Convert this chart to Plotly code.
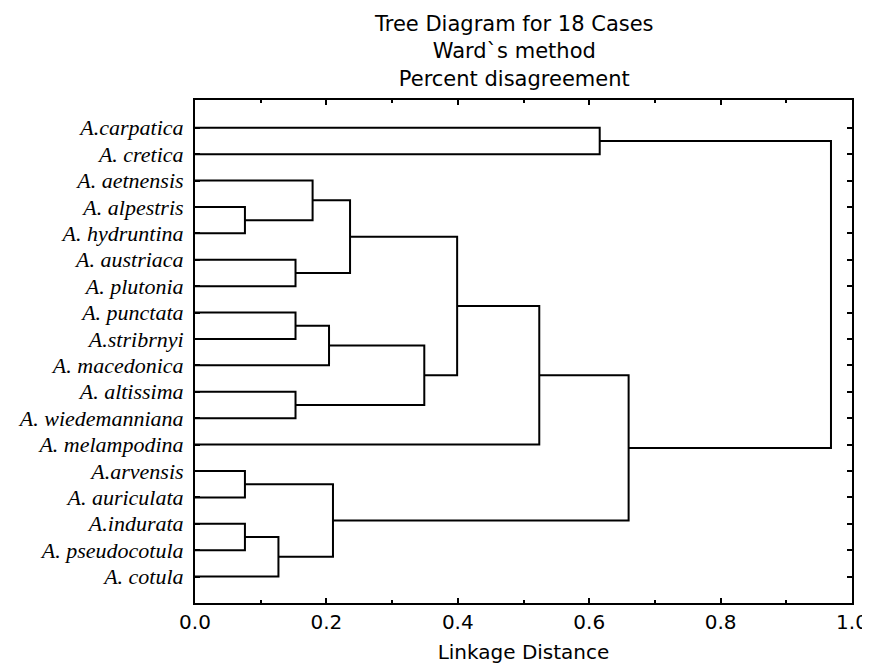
import plotly.graph_objects as go

leaves = ["A.carpatica", "A. cretica", "A. aetnensis", "A. alpestris", "A. hydruntina",
          "A. austriaca", "A. plutonia", "A. punctata", "A.stribrnyi", "A. macedonica",
          "A. altissima", "A. wiedemanniana", "A. melampodina", "A.arvensis",
          "A. auriculata", "A.indurata", "A. pseudocotula", "A. cotula"]

# merges: cluster ids >= 18 refer to earlier merges (18 + merge index)
merge_left = [3, 13, 15, 20, 5, 7, 10, 2, 23, 19, 25, 26, 28, 30, 0, 31, 32]
merge_right = [4, 14, 16, 17, 6, 8, 11, 18, 9, 21, 22, 24, 29, 12, 1, 27, 33]
merge_height = [0.076, 0.076, 0.076, 0.127, 0.153, 0.153, 0.153, 0.179, 0.204,
                0.210, 0.236, 0.349, 0.399, 0.524, 0.616, 0.660, 0.968]

x_ticks = [0.0, 0.2, 0.4, 0.6, 0.8, 1.0]
x_ticktext = ["0.0", "0.2", "0.4", "0.6", "0.8", "1.0"]

title_lines = ["Tree Diagram for 18 Cases", "Ward`s method", "Percent disagreement"]

n = len(leaves)
ypos = {i: float(i) for i in range(n)}
hpos = {i: 0.0 for i in range(n)}
xs, ys = [], []
for k, (a, b, h) in enumerate(zip(merge_left, merge_right, merge_height)):
    ya, yb = ypos[a], ypos[b]
    xs += [hpos[a], h, h, hpos[b], None]
    ys += [ya, ya, yb, yb, None]
    cid = n + k
    ypos[cid] = (ya + yb) / 2
    hpos[cid] = h

fig = go.Figure()
fig.add_trace(go.Scatter(x=xs, y=ys, mode="lines",
                         line=dict(color="black", width=2),
                         hoverinfo="skip", showlegend=False))

sans = "DejaVu Sans"
# page body has an 8px margin; keep the figure inside the window (no scrollbars)
OFF = 8
W, H = 870 - 2 * OFF + 8, 672 - 2 * OFF
L, R_EDGE, T, B_EDGE = 195 - OFF, 852 - OFF, 100 - OFF, 603 - OFF
fig.add_annotation(text="<br>".join(title_lines), xref="paper", yref="paper",
                   x=(514 - 195) / (852 - 195), y=1 + (100 - 10) / 503,
                   xanchor="center", yanchor="top", showarrow=False, align="center",
                   font=dict(family=sans, size=21, color="black"))

fig.update_layout(
    width=W, height=H,
    margin=dict(l=L, r=W - R_EDGE, t=T, b=H - B_EDGE, autoexpand=False),
    paper_bgcolor="white", plot_bgcolor="white",
    showlegend=False,
    xaxis=dict(range=[0, 1.0], tickvals=x_ticks, ticktext=x_ticktext,
               automargin=False,
               showgrid=False, zeroline=False,
               showline=True, linecolor="black", linewidth=2, mirror="ticks",
               ticks="inside", ticklen=5, tickwidth=1.5, tickcolor="black",
               minor=dict(dtick=0.1, ticks="inside", ticklen=3, tickwidth=1.5, tickcolor="black"),
               tickfont=dict(family=sans, size=20, color="black"),
               title=dict(text="Linkage Distance", standoff=17,
                          font=dict(family=sans, size=20, color="black"))),
    yaxis=dict(range=[18.0, -1.05], tickvals=list(range(n)), ticktext=leaves,
               automargin=False,
               showgrid=False, zeroline=False,
               showline=True, linecolor="black", linewidth=2, mirror="ticks",
               ticks="inside", ticklen=5, tickwidth=1.5, tickcolor="black",
               ticklabelstandoff=5,
               tickfont=dict(family="Liberation Serif", size=22, color="black", style="italic")),
)

fig.write_html("out.html")
